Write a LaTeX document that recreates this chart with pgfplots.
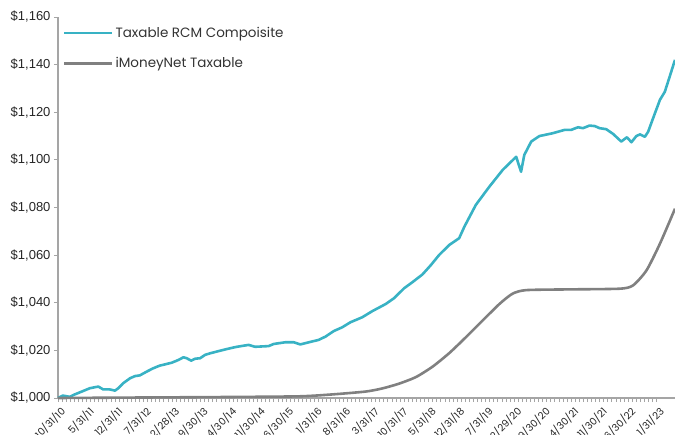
\documentclass[border=0pt]{standalone}
\usepackage{fontspec}
\setmainfont{Liberation Sans}
\newfontfamily\gothic{Poppins}
\usepackage{pgfplots}
\pgfplotsset{compat=1.18}
\definecolor{teal1}{RGB}{56,178,196}
\definecolor{gray1}{RGB}{128,128,128}
\definecolor{axgray}{RGB}{165,165,165}
\begin{document}
\begin{tikzpicture}
\begin{axis}[
  name=ax,
  scale only axis,
  width=617pt, height=381pt,
  xmin=0, xmax=151.5,
  ymin=1000, ymax=1160,
  axis lines*=left,
  axis line style={axgray, line width=1.2pt},
  tick style={axgray, line width=0.8pt},
  tick align=outside,
  major tick length=4pt, minor tick length=4pt,
  xtick={0,7,...,147},
  minor x tick num=6,
  xticklabels={10/31/10,5/31/11,12/31/11,7/31/12,2/28/13,9/30/13,4/30/14,11/30/14,6/30/15,1/31/16,8/31/16,3/31/17,10/31/17,5/31/18,12/31/18,7/31/19,2/29/20,9/30/20,4/30/21,11/30/21,6/30/22,1/31/23},
  xticklabel style={font=\gothic\fontsize{10}{11}\selectfont, rotate=45, anchor=north east, text=black!85, inner sep=0.5pt, yshift=-3pt, xshift=-1pt},
  ytick={1000,1020,...,1160},
  yticklabels={\$1{,}000,\$1{,}020,\$1{,}040,\$1{,}060,\$1{,}080,\$1{,}100,\$1{,}120,\$1{,}140,\$1{,}160},
  yticklabel style={font=\fontsize{13}{14}\selectfont, text=black!85},
  legend style={draw=none, fill=none, at={(0.003,0.985)}, anchor=north west,
    font=\gothic\fontsize{13.5}{14}\selectfont, text=black!80, row sep=15pt,
    /tikz/every even column/.append style={column sep=0pt}},
  legend cell align=left,
  legend image code/.code={\draw[#1, line width=2.5pt] (0pt,0pt) -- (48pt,0pt);},
  clip=false,
]
\addplot[teal1, line width=2.6pt, line join=round] coordinates {
(0,1000.0)(1.2,1001.0)(2.9,1000.5)(4.1,1001.5)(5.7,1002.6)(7.8,1004.1)(9.9,1004.8)
(11.1,1003.6)(12.7,1003.6)(14.0,1003.1)(14.8,1004.1)(16,1006.2)(17.7,1008.3)(18.9,1009.2)
(20.1,1009.5)(21.8,1011.1)(23.4,1012.5)(25,1013.6)(26.7,1014.3)(27.9,1014.8)(29.6,1016.0)
(30.8,1017.1)(31.6,1016.7)(32.7,1015.7)(33.7,1016.5)(34.9,1016.7)(36.1,1018.1)(37.4,1018.8)
(39,1019.5)(40.6,1020.2)(42.3,1020.9)(43.9,1021.5)(46.8,1022.3)(48.4,1021.5)(51.7,1021.8)
(53,1022.7)(55.8,1023.4)(57.9,1023.4)(59.5,1022.5)(61.6,1023.4)(64,1024.4)(65.7,1025.8)
(67.7,1028.1)(69.8,1029.7)(71.8,1031.8)(74.7,1033.9)(77.2,1036.5)(80.5,1039.5)(82.5,1041.9)
(85,1046.1)(87,1048.6)(89.5,1051.9)(91.6,1055.9)(93.6,1060.1)(96.1,1064.3)(98.5,1067.1)
(99.8,1072.0)(102.6,1081.1)(105.9,1088.7)(109.2,1095.8)(112.5,1101.3)(113.7,1095.0)(114.5,1102.1)
(116.2,1107.7)(118.2,1110.0)(121.5,1111.2)(124.4,1112.6)(126,1112.6)(127.7,1113.7)(128.9,1113.3)
(130.5,1114.4)(131.8,1114.2)(133,1113.3)(134.6,1112.9)(136.3,1110.9)(138.3,1107.7)(139.7,1109.5)
(140.8,1107.4)(142,1110.0)(142.9,1110.7)(144.1,1109.7)(144.9,1111.8)(146.1,1117.4)(147.8,1125.2)
(149,1128.6)(150.2,1135)(151.5,1142)
};
\addlegendentry{Taxable RCM Compoisite}
\addplot[gray1, line width=2.6pt, smooth, tension=0.4] coordinates {
(0,1000.0)(20,1000.2)(40,1000.4)(59.1,1000.7)(67.3,1001.5)(75.5,1002.7)(79.6,1004.0)
(83.7,1006.0)(87.9,1008.8)(92,1013.2)(96.1,1018.9)(100.2,1025.6)(104.3,1032.6)(108.4,1039.5)
(111.6,1043.8)(114.9,1045.3)(124.8,1045.6)(137.9,1045.9)(141.2,1047.3)(144.5,1053.6)
(147.8,1064.8)(151.5,1079.5)
};
\addlegendentry{iMoneyNet Taxable}
\end{axis}
\pgfresetboundingbox
\path[use as bounding box] ([shift={(-58pt,-36pt)}]ax.south west) rectangle ([shift={(0pt,17pt)}]ax.north east);
\end{tikzpicture}
\end{document}
